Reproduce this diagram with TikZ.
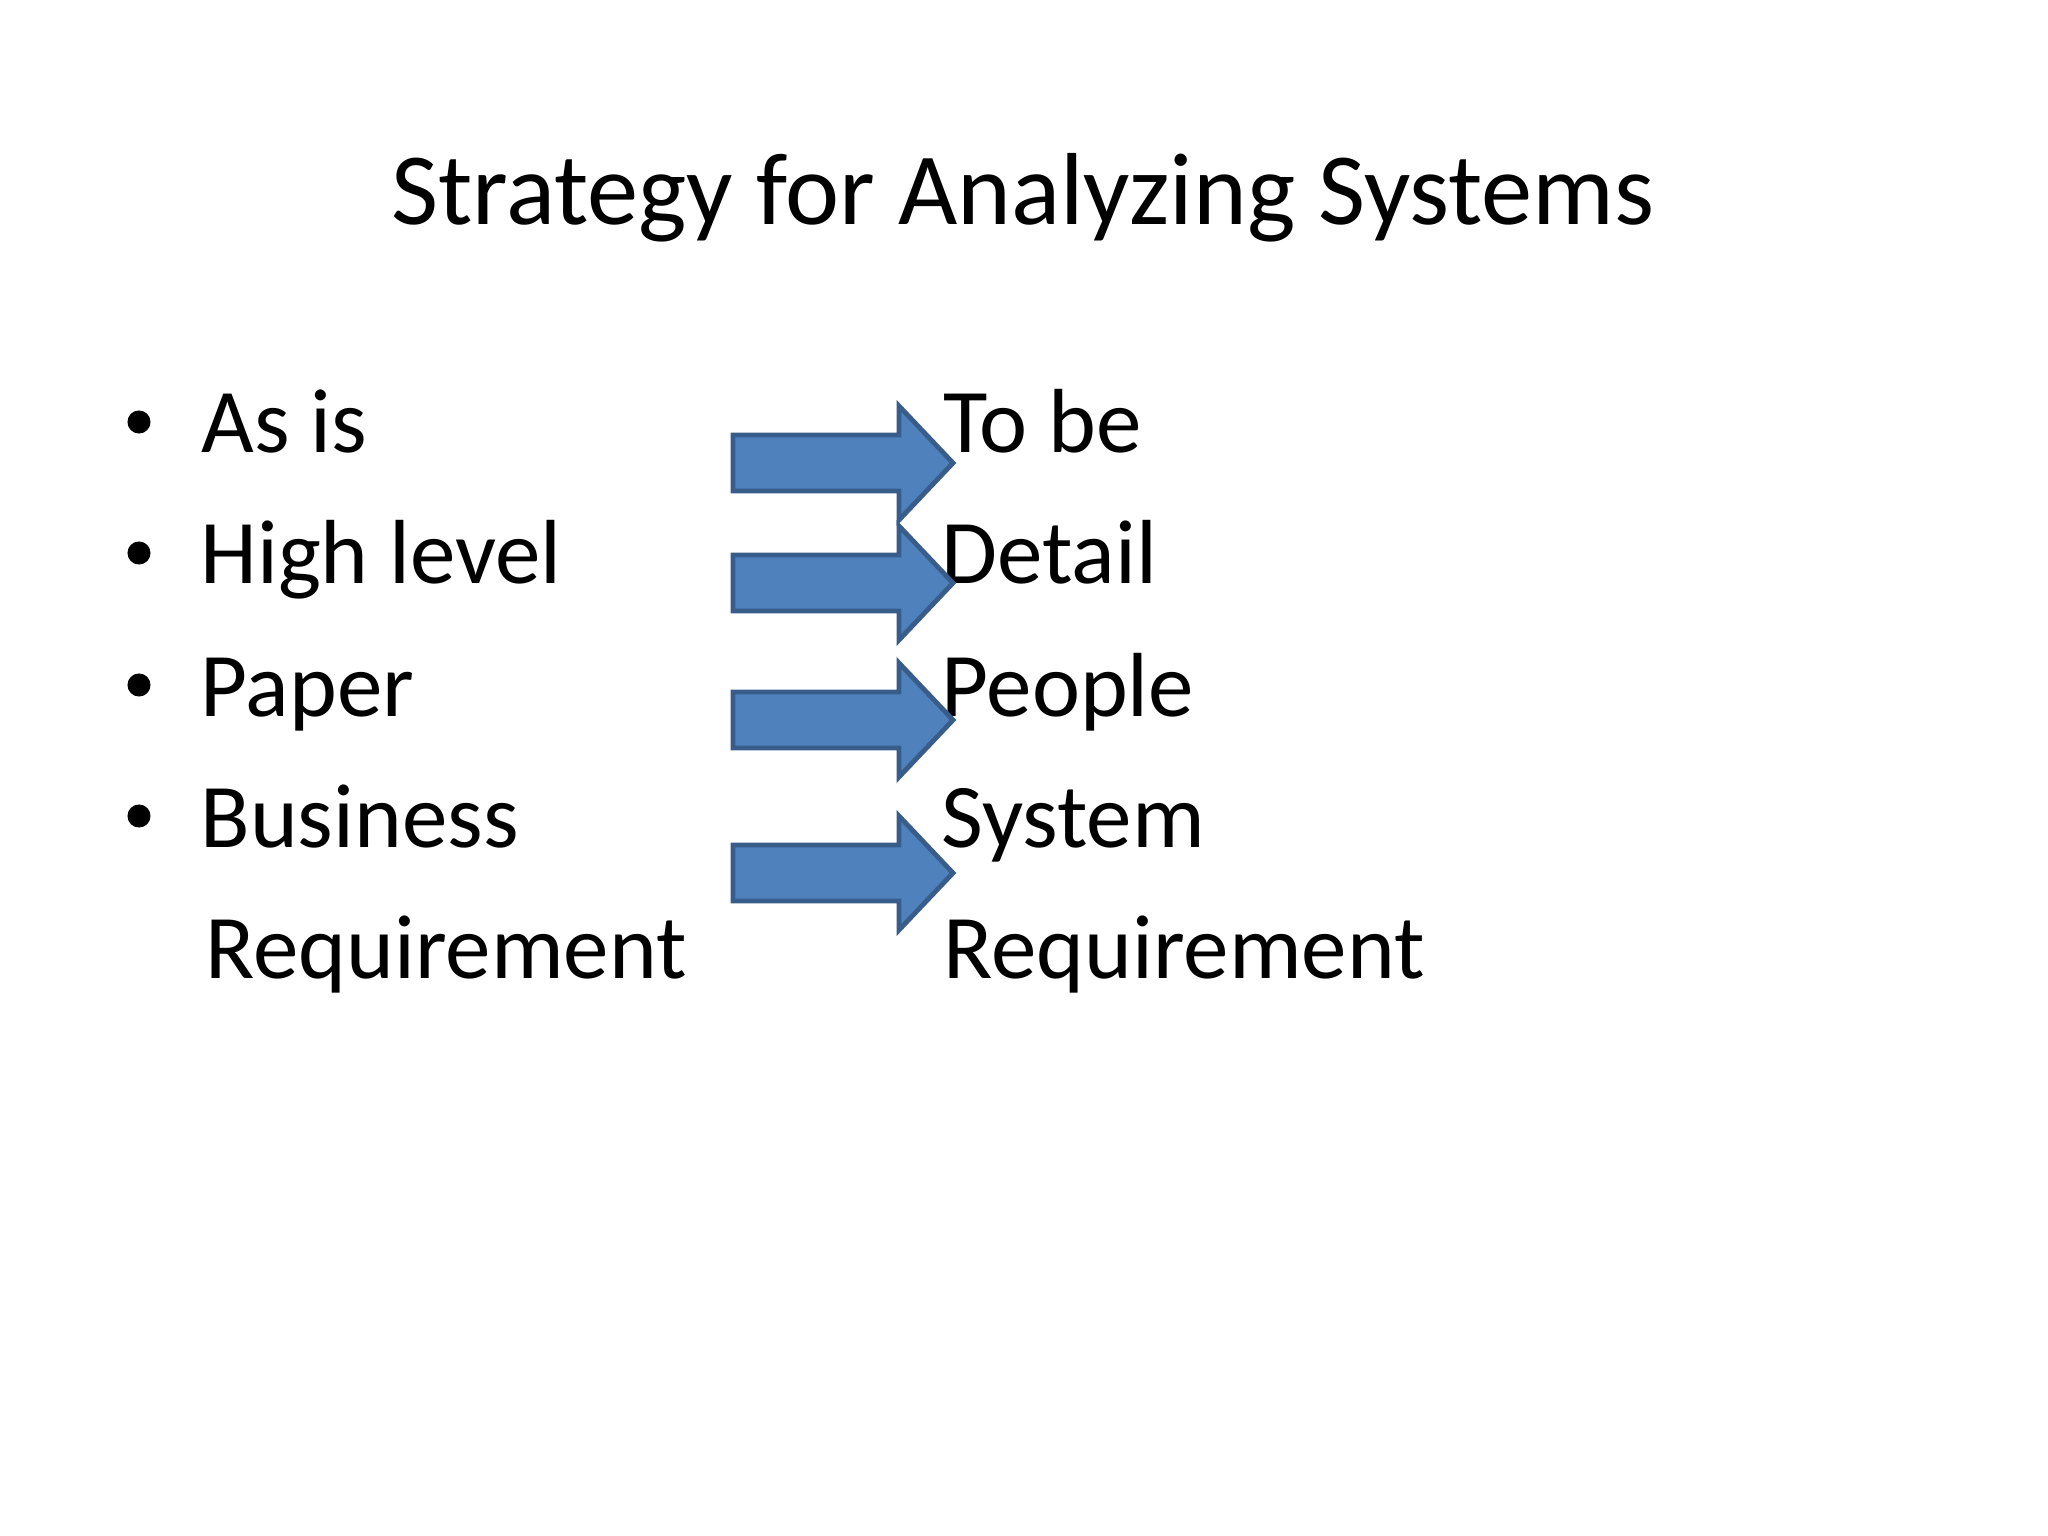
\documentclass[tikz,border=0pt]{standalone}
\usepackage{fontspec}
\setmainfont{Carlito}
\definecolor{arrowfill}{HTML}{4F81BD}
\definecolor{arrowline}{HTML}{385D8A}
\tikzset{
  titletext/.style={anchor=base, inner sep=0pt, font=\fontsize{36}{43}\selectfont},
  bodytext/.style={anchor=base west, inner sep=0pt, font=\fontsize{32}{38}\selectfont},
  bulletdot/.style={circle, fill=black, inner sep=0pt, minimum size=8.1pt},
  blockarrow/.style={fill=arrowfill, draw=arrowline, line width=1.7pt, line join=miter}
}
\begin{document}
\begin{tikzpicture}[x=0.3515625pt, y=-0.3515625pt]
\useasboundingbox (0,0) rectangle (2048,1536);
\fill[white] (0,0) rectangle (2048,1536);
% title
\node[titletext] (title) at (1023,225) {Strategy for Analyzing Systems};
% bullets
\node[bulletdot] (b1) at (139,422) {};
\node[bulletdot] (b2) at (139,553) {};
\node[bulletdot] (b3) at (139,685) {};
\node[bulletdot] (b4) at (139,816) {};
% left column
\node[bodytext] (l1) at (201,453) {As is};
\node[bodytext] (l2) at (200,584) {High level};
\node[bodytext] (l3) at (200,716) {Paper};
\node[bodytext] (l4) at (200,847) {Business};
\node[bodytext] (l5) at (205,978) {Requirement};
% right column
\node[bodytext] (r1) at (943,453) {To be};
\node[bodytext] (r2) at (941,584) {Detail};
\node[bodytext] (r3) at (941,716) {People};
\node[bodytext] (r4) at (941,847) {System};
\node[bodytext] (r5) at (943,978) {Requirement};
% block arrows
\foreach \yc in {463,583,720,873}{
  \draw[blockarrow] (733,\yc-28) -- (899,\yc-28) -- (899,\yc-57) -- (953,\yc)
     -- (899,\yc+57) -- (899,\yc+28) -- (733,\yc+28) -- cycle;
}
\end{tikzpicture}
\end{document}
